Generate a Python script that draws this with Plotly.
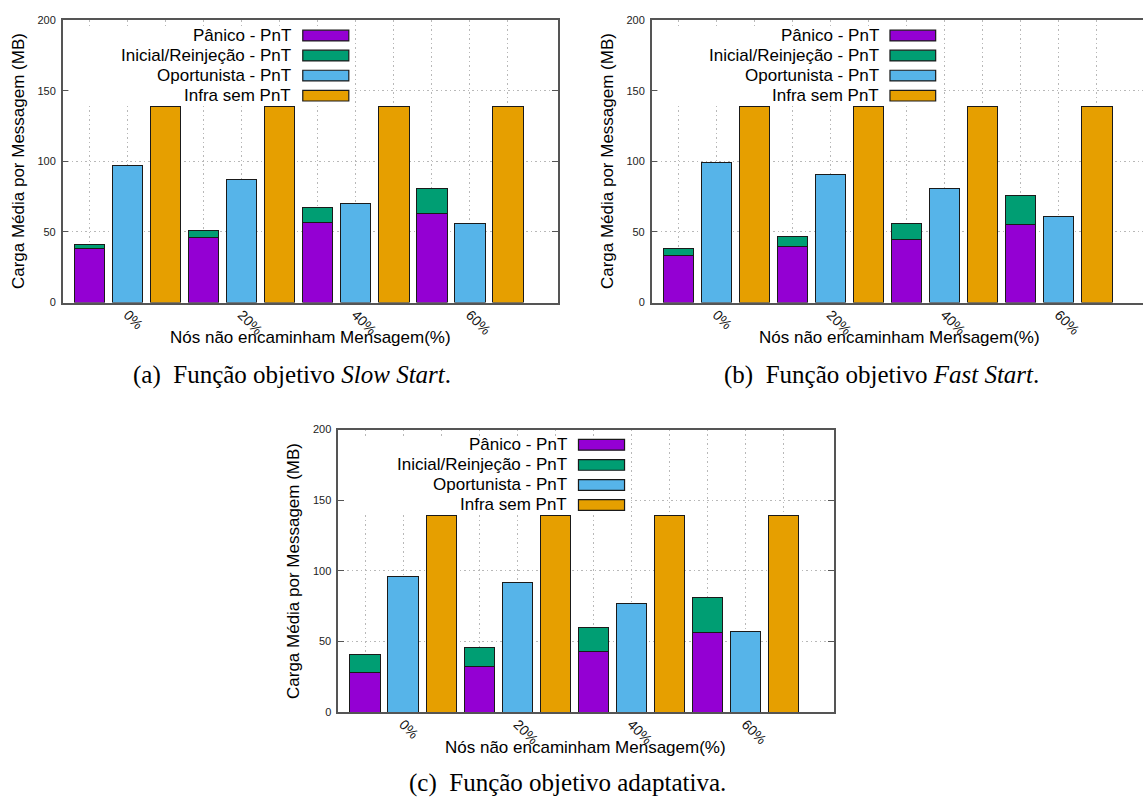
import plotly.graph_objects as go

# ---------------- data ----------------
categories = ["0%", "20%", "40%", "60%"]
series_names = ["Pânico - PnT", "Inicial/Reinjeção - PnT", "Oportunista - PnT", "Infra sem PnT"]
colors = ["#9400D3", "#009E73", "#56B4E9", "#E69F00"]

slow_panico = [38, 46, 57, 63]
slow_inicial = [3, 5, 10, 18]
slow_oportunista = [97, 87, 70, 56]
slow_infra = [139, 139, 139, 139]

fast_panico = [33, 40, 45, 55]
fast_inicial = [5, 7, 11, 21]
fast_oportunista = [99, 91, 81, 61]
fast_infra = [139, 139, 139, 139]

adapt_panico = [28, 32, 43, 56]
adapt_inicial = [13, 14, 17, 25]
adapt_oportunista = [96, 92, 77, 57]
adapt_infra = [139, 139, 139, 139]

y_title = "Carga Média por Messagem (MB)"
x_title = "Nós não encaminham Mensagem(%)"
captions = [
    "(a)  Função objetivo <i>Slow Start</i>.",
    "(b)  Função objetivo <i>Fast Start</i>.",
    "(c)  Função objetivo adaptativa.",
]

# ---------------- layout helpers ----------------
W, H = 1143, 805
SANS = "Liberation Sans, Arial, sans-serif"
SERIF = "Liberation Serif, Times New Roman, serif"
AXIS_COLOR = "#555555"
GRID_COLOR = "#b8b8b8"
GRID_DASH = "1.5px,3px"

n_series_slots = 3
slots = list(range(len(categories) * n_series_slots))
ticktext = []
for s in slots:
    ticktext.append(categories[s // n_series_slots] if s % n_series_slots == 1 else "")

panels = [
    dict(xa="x", ya="y", data=(slow_panico, slow_inicial, slow_oportunista, slow_infra),
         xdom=(62.7 / W, 557.7 / W), ydom=((H - 301) / H, (H - 14.5) / H),
         xrange=[-0.707, 12.31], mirror_y="ticks"),
    dict(xa="x2", ya="y2", data=(fast_panico, fast_inicial, fast_oportunista, fast_infra),
         xdom=(651.7 / W, 1.0), ydom=((H - 301) / H, (H - 14.5) / H),
         xrange=[-0.707, -0.707 + 491.3 / 38.02], mirror_y=False),
    dict(xa="x3", ya="y3", data=(adapt_panico, adapt_inicial, adapt_oportunista, adapt_infra),
         xdom=(338.2 / W, 833.6 / W), ydom=((H - 716.7) / H, (H - 430) / H),
         xrange=[-0.707, 12.31], mirror_y="ticks"),
]

fig = go.Figure()
shapes = []
annotations = []

bar_line = dict(color="#1a1a1a", width=1)
row_y = [0.946, 0.875, 0.804, 0.733]

for pi, p in enumerate(panels):
    panico, inicial, oport, infra = p["data"]
    idx = list(range(len(categories)))
    x_stack = [n_series_slots * i + 0 for i in idx]
    x_op = [n_series_slots * i + 1 for i in idx]
    x_inf = [n_series_slots * i + 2 for i in idx]
    common = dict(xaxis=p["xa"], yaxis=p["ya"], width=0.8, showlegend=False, hoverinfo="skip")
    fig.add_trace(go.Bar(x=x_stack, y=panico, marker=dict(color=colors[0], line=bar_line), **common))
    fig.add_trace(go.Bar(x=x_stack, y=inicial, marker=dict(color=colors[1], line=bar_line), **common))
    fig.add_trace(go.Bar(x=x_op, y=oport, marker=dict(color=colors[2], line=bar_line), **common))
    fig.add_trace(go.Bar(x=x_inf, y=infra, marker=dict(color=colors[3], line=bar_line), **common))

    xkey = "xaxis" if p["xa"] == "x" else "xaxis" + p["xa"][1:]
    ykey = "yaxis" if p["ya"] == "y" else "yaxis" + p["ya"][1:]
    fig.update_layout(**{
        xkey: dict(domain=list(p["xdom"]), anchor=p["ya"], range=p["xrange"],
                   tickmode="array", tickvals=slots, ticktext=ticktext, tickangle=45,
                   tickfont=dict(family=SANS, size=14, color="#111"),
                   showgrid=True, gridcolor=GRID_COLOR, griddash=GRID_DASH, gridwidth=1,
                   showline=True, linecolor=AXIS_COLOR, linewidth=1.5, mirror=True,
                   ticks="", ticklabelstandoff=-3, zeroline=False, fixedrange=True),
        ykey: dict(domain=list(p["ydom"]), anchor=p["xa"], range=[0, 200],
                   tickmode="array", tickvals=[0, 50, 100, 150, 200],
                   tickfont=dict(family=SANS, size=11, color="#222"),
                   showgrid=True, gridcolor=GRID_COLOR, griddash=GRID_DASH, gridwidth=1,
                   showline=True, linecolor=AXIS_COLOR, linewidth=1.5, mirror=p["mirror_y"],
                   ticks="inside", ticklen=6, tickcolor=AXIS_COLOR, tickwidth=1.2,
                   ticklabelstandoff=3, zeroline=False, fixedrange=True),
    })

    xd = p["xa"] + " domain"
    yd = p["ya"] + " domain"
    # opaque key box (drawn first so swatches sit on top of it)
    shapes.append(dict(type="rect", xref=xd, yref=yd, x0=0.016, x1=0.59, y0=0.70, y1=0.975,
                       fillcolor="white", line=dict(width=0), layer="above"))
    for si, name in enumerate(series_names):
        annotations.append(dict(xref=xd, yref=yd, x=0.466, y=row_y[si], text=name,
                                showarrow=False, xanchor="right", yanchor="middle",
                                font=dict(family=SANS, size=17, color="#000")))
        shapes.append(dict(type="rect", xref=xd, yref=yd, x0=0.485, x1=0.578,
                           y0=row_y[si] - 0.019, y1=row_y[si] + 0.019,
                           fillcolor=colors[si], line=dict(color="#1a1a1a", width=1.2),
                           layer="above"))
    # axis titles
    annotations.append(dict(xref=xd, yref=yd, x=0, y=0.5, xshift=-44, text=y_title,
                            textangle=-90, showarrow=False, xanchor="center", yanchor="middle",
                            font=dict(family=SANS, size=17, color="#000")))
    annotations.append(dict(xref=xd, yref=yd, x=0.5 if pi != 1 else 0.5 * 495 / 491.3, y=0,
                            yshift=-35, text=x_title, showarrow=False,
                            xanchor="center", yanchor="middle",
                            font=dict(family=SANS, size=17, color="#000")))

# captions
cap_pos = [(291.5, 375), (881, 375), (567, 789)]
for (cx, cy), txt in zip(cap_pos, captions):
    annotations.append(dict(xref="paper", yref="paper", x=cx / W, y=1 - cy / H, text=txt,
                            showarrow=False, xanchor="center", yanchor="middle",
                            font=dict(family=SERIF, size=25, color="#000")))

fig.update_layout(
    width=W, height=H, autosize=False,
    margin=dict(l=0, r=0, t=0, b=0, pad=0),
    paper_bgcolor="white", plot_bgcolor="white",
    barmode="stack", showlegend=False,
    shapes=shapes, annotations=annotations,
)

fig.write_html("out.html", config={"displayModeBar": False},
               post_script="document.body.style.margin='0';document.body.style.overflow='hidden';")
